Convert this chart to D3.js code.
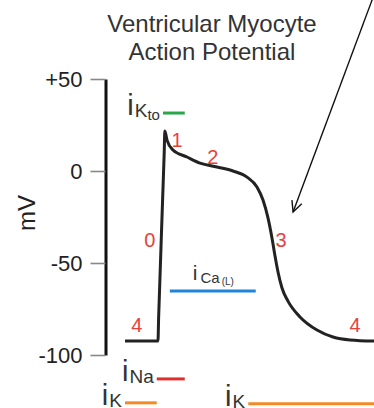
<!DOCTYPE html>
<html>
<head>
<meta charset="utf-8">
<script src="https://cdn.jsdelivr.net/npm/d3@7"></script>
<style>
  html, body { margin: 0; padding: 0; background: #fff; }
  svg { display: block; font-family: 'Liberation Sans', Arial, sans-serif; }
</style>
</head>
<body>
<div id="chart"></div>
<script>
// Ventricular myocyte action potential (time in ms, membrane potential in mV)
const timeMs = [0, 53, 54, 63, 64, 67.5, 77, 99.6, 120.5, 147.8, 173.5, 196, 212, 221.7, 229.7, 236.1, 241, 245.8, 252.2, 261.8, 281.1, 308.4, 334.1, 361.4, 400];
const voltage = [-92.4, -92.4, -80, 10, 21.7, 16.8, 11.4, 7.6, 4.3, 2.2, 0, -3.3, -8.7, -15.8, -25.5, -36.4, -46.2, -54.9, -63.6, -70.7, -79.3, -86.4, -90.2, -91.8, -92.4];

const yTicks = [50, 0, -50, -100];
const yTickLabels = ['+50', '0', '-50', '-100'];

// phase numbers, placed in (ms, mV)
const phaseText = ['0', '1', '2', '3', '4', '4'];
const phaseTime = [40, 83.5, 141, 250.6, 19, 369.5];
const phaseVolt = [-37.5, 16.8, 7.6, -37.5, -83.7, -83.7];

// ionic currents: active window (ms) and the level where the bar sits (mV)
const currentMain = ['i', 'i', 'i', 'i', 'i'];
const currentSub = ['K', 'Ca', 'Na', 'K', 'K'];
const currentSub2 = ['to', '(L)', '', '', ''];
const currentStart = [61, 72, 51, 0, 198];
const currentEnd = [96, 210, 96, 51, 400];
const currentLevel = [31.5, -65.2, -113, -126, -126.5];
const currentColor = ['#2aa64a', '#2283dc', '#e0302c', '#f28a26', '#f28a26'];

const width = 374, height = 408;

const x = d3.scaleLinear().domain([0, 400]).range([125, 374]);
const y = d3.scaleLinear().domain([-100, 50]).range([355, 79]);

const svg = d3.select('#chart').append('svg')
  .attr('width', width)
  .attr('height', height);

// Title
const title = svg.append('text')
  .attr('text-anchor', 'middle')
  .attr('fill', '#333')
  .attr('font-size', '24px');
title.append('tspan').attr('x', 212).attr('y', 32).text('Ventricular Myocyte');
title.append('tspan').attr('x', 212).attr('y', 60).text('Action Potential');

// Y axis
const axis = svg.append('g')
  .attr('transform', 'translate(105.5,0)')
  .call(d3.axisLeft(y)
    .tickValues(yTicks)
    .tickSize(15)
    .tickSizeOuter(0)
    .tickPadding(8)
    .tickFormat((d, i) => yTickLabels[i]));

axis.select('.domain')
  .attr('stroke', '#111')
  .attr('stroke-width', 3);
axis.selectAll('.tick line')
  .attr('stroke', '#888')
  .attr('stroke-width', 1.6);
axis.selectAll('.tick text')
  .attr('fill', '#222')
  .attr('font-size', '22px')
  .attr('font-family', "'Liberation Sans', Arial, sans-serif");

svg.append('text')
  .attr('transform', 'translate(35,213) rotate(-90)')
  .attr('text-anchor', 'middle')
  .attr('fill', '#222')
  .attr('font-size', '24px')
  .text('mV');

// Action potential trace
const line = d3.line()
  .x(i => x(timeMs[i]))
  .y(i => y(voltage[i]))
  .curve(d3.curveMonotoneX);

svg.append('path')
  .attr('d', line(d3.range(timeMs.length)))
  .attr('fill', 'none')
  .attr('stroke', '#222')
  .attr('stroke-width', 3)
  .attr('stroke-linejoin', 'round');

// Phase numbers
svg.selectAll('.phase')
  .data(phaseText)
  .join('text')
  .attr('class', 'phase')
  .attr('x', (d, i) => x(phaseTime[i]))
  .attr('y', (d, i) => y(phaseVolt[i]))
  .attr('dy', '0.36em')
  .attr('text-anchor', 'middle')
  .attr('fill', '#e8413c')
  .attr('font-size', '20px')
  .text(d => d);

// Current bars
svg.selectAll('.current')
  .data(currentSub)
  .join('line')
  .attr('class', 'current')
  .attr('x1', (d, i) => x(currentStart[i]))
  .attr('x2', (d, i) => x(currentEnd[i]))
  .attr('y1', (d, i) => y(currentLevel[i]))
  .attr('y2', (d, i) => y(currentLevel[i]))
  .attr('stroke', (d, i) => currentColor[i])
  .attr('stroke-width', 3);

// Current labels
currentSub.forEach((sub, i) => {
  const isCa = sub === 'Ca';
  const t = svg.append('text')
    .attr('fill', '#333')
    .attr('text-anchor', isCa ? 'start' : 'end')
    .attr('x', isCa ? x(currentStart[i]) + 23 : x(currentStart[i]) - 3)
    .attr('y', isCa ? y(currentLevel[i]) - 11 : y(currentLevel[i]) + 2);
  t.append('tspan')
    .attr('font-size', isCa ? '21px' : '29px')
    .text(currentMain[i]);
  t.append('tspan')
    .attr('font-size', isCa ? '15px' : '19px')
    .attr('dx', isCa ? 3 : 1)
    .attr('dy', isCa ? 3 : 2)
    .text(sub);
  if (currentSub2[i]) {
    t.append('tspan')
      .attr('font-size', isCa ? '10px' : '15px')
      .attr('dx', isCa ? 2 : 0)
      .attr('dy', isCa ? 2 : 3)
      .text(currentSub2[i]);
  }
});

// Arrow pointing at phase 3
const arrowFrom = [397, 93];
const arrowTo = [270, -22.3];
const x0 = x(arrowFrom[0]), y0 = y(arrowFrom[1]);
const x1 = x(arrowTo[0]), y1 = y(arrowTo[1]);
const ang = Math.atan2(y1 - y0, x1 - x0);
const head = 12, spread = 0.45;

svg.append('line')
  .attr('x1', x0).attr('y1', y0)
  .attr('x2', x1).attr('y2', y1)
  .attr('stroke', '#111')
  .attr('stroke-width', 1.4);

svg.append('path')
  .attr('d', `M${x1 - head * Math.cos(ang - spread)},${y1 - head * Math.sin(ang - spread)}` +
             `L${x1},${y1}` +
             `L${x1 - head * Math.cos(ang + spread)},${y1 - head * Math.sin(ang + spread)}`)
  .attr('fill', 'none')
  .attr('stroke', '#111')
  .attr('stroke-width', 1.4);
</script>
</body>
</html>
